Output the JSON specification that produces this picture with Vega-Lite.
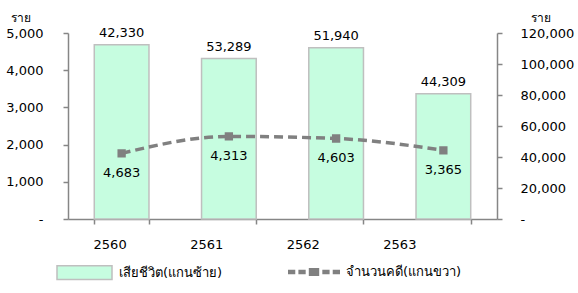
{
  "$schema": "https://vega.github.io/schema/vega-lite/v6.json",
  "autosize": "none",
  "width": 429,
  "height": 186,
  "padding": {"left": 68, "top": 33, "right": 81, "bottom": 74},
  "background": "white",
  "config": {
    "view": {"stroke": null},
    "font": "Tahoma, 'DejaVu Sans', sans-serif",
    "axis": {"labelFontSize": 13, "labelColor": "#000000", "domainColor": "#868686", "tickColor": "#868686", "domainWidth": 1.5, "tickWidth": 1.5, "tickSize": 5, "grid": false, "titleFontSize": 12, "titleFontWeight": "normal", "titleColor": "#000000"},
    "legend": {"labelFontSize": 13, "labelColor": "#000000"}
  },
  "data": {"values": [
    {"year": "2560", "deaths": 4683, "cases": 42330},
    {"year": "2561", "deaths": 4313, "cases": 53289},
    {"year": "2562", "deaths": 4603, "cases": 51940},
    {"year": "2563", "deaths": 3365, "cases": 44309}
  ]},
  "encoding": {
    "x": {"field": "year", "type": "nominal", "scale": {"paddingInner": 0.49, "paddingOuter": 0.245},
      "axis": {"title": null, "labelAngle": 0, "tickBand": "extent", "labelPadding": 14,
        "labelOffset": {"condition": {"test": "datum.index >= 0", "expr": "-12 - 32 * datum.index"}, "value": -28}}}
  },
  "layer": [
    {
      "encoding": {
        "y": {"field": "deaths", "type": "quantitative", "scale": {"domain": [0, 5000]},
          "axis": {"values": [0, 1000, 2000, 3000, 4000, 5000], "labelExpr": "datum.value == 0 ? '-' : format(datum.value, ',')", "labelPadding": 20, "title": "ราย", "titleAngle": 0, "titleX": -48, "titleY": -16, "titleAlign": "center", "titleBaseline": "middle"}}
      },
      "layer": [
        {"mark": {"type": "bar", "stroke": "#bfbfbf", "strokeWidth": 1.5},
         "encoding": {"fill": {"datum": "เสียชีวิต(แกนซ้าย)", "type": "nominal", "scale": {"range": ["#c6fde0"]},
           "legend": {"title": null, "orient": "none", "legendX": -12, "legendY": 211, "symbolType": "M-1,-0.25H1V0.25H-1Z", "symbolSize": 3025, "symbolStrokeColor": "#bfbfbf", "symbolStrokeWidth": 1.5, "labelOffset": 6}}}},
        {"mark": {"type": "text", "baseline": "bottom", "dy": -5, "fontSize": 13, "color": "#000000"},
         "encoding": {"text": {"field": "cases", "type": "quantitative", "format": ","}}}
      ]
    },
    {
      "encoding": {
        "y": {"field": "cases", "type": "quantitative", "scale": {"domain": [0, 120000]},
          "axis": {"orient": "right", "values": [0, 20000, 40000, 60000, 80000, 100000, 120000], "labelExpr": "datum.value == 0 ? '-' : format(datum.value, ',')", "labelPadding": 18, "title": "ราย", "titleAngle": 0, "titleX": 43, "titleY": -16, "titleAlign": "center", "titleBaseline": "middle"}}
      },
      "layer": [
        {"mark": {"type": "line", "interpolate": "monotone", "strokeWidth": 3.5, "strokeDash": [9, 5], "point": {"shape": "square", "size": 40, "filled": true, "color": "#808080"}},
         "encoding": {"stroke": {"datum": "จำนวนคดี(แกนขวา)", "type": "nominal", "scale": {"range": ["#808080"]},
           "legend": {"title": null, "orient": "none", "legendX": 220, "legendY": 213, "symbolType": "M-1,-0.09H-0.72V0.09H-1Z M-0.6,-0.09H-0.32V0.09H-0.6Z M-0.2,-0.15H0.2V0.15H-0.2Z M0.32,-0.09H0.6V0.09H0.32Z M0.72,-0.09H1V0.09H0.72Z", "symbolSize": 2704, "symbolFillColor": "#808080", "symbolStrokeColor": "#808080", "symbolStrokeWidth": 0, "symbolDash": [], "labelOffset": 6}}}},
        {"mark": {"type": "text", "baseline": "middle", "dy": 20, "fontSize": 13, "color": "#000000"},
         "encoding": {"text": {"field": "deaths", "type": "quantitative", "format": ","}}}
      ]
    }
  ],
  "resolve": {"scale": {"y": "independent"}}
}
